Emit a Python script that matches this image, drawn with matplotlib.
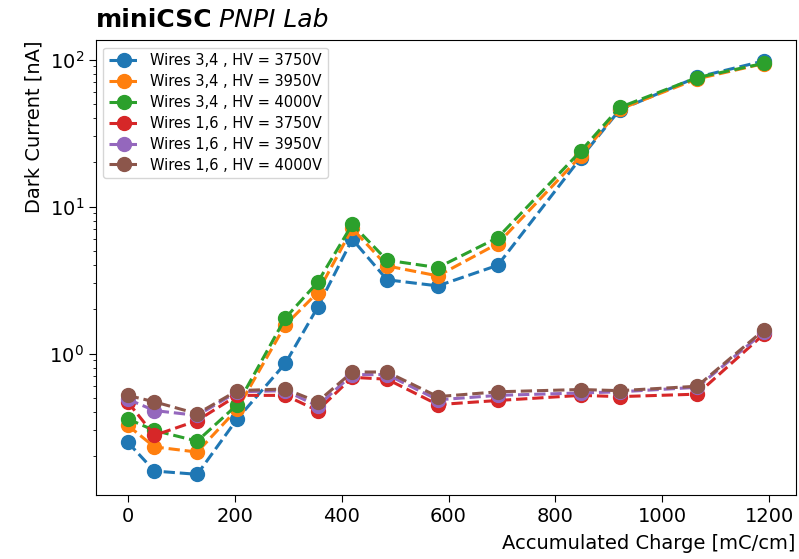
from matplotlib import pyplot as plt
from matplotlib.transforms import offset_copy

# accumulated charge [mC/cm]
charge = [0, 50, 130, 205, 295, 355, 420, 485, 580, 692, 847, 920, 1065, 1190]

# dark current [nA]
w34_3750 = [0.25, 0.159, 0.151, 0.36, 0.86, 2.06, 6.0, 3.18, 2.89, 3.99, 21.4, 45.5, 76, 98]
w34_3950 = [0.325, 0.232, 0.214, 0.42, 1.57, 2.6, 7.1, 3.95, 3.38, 5.6, 22.0, 46.0, 74, 94]
w34_4000 = [0.36, 0.30, 0.254, 0.45, 1.75, 3.05, 7.57, 4.32, 3.85, 6.15, 23.8, 47.3, 75.5, 94.4]
w16_3750 = [0.47, 0.278, 0.35, 0.52, 0.52, 0.41, 0.69, 0.67, 0.45, 0.48, 0.52, 0.51, 0.53, 1.36]
w16_3950 = [0.49, 0.41, 0.38, 0.55, 0.56, 0.44, 0.72, 0.72, 0.485, 0.52, 0.54, 0.55, 0.59, 1.40]
w16_4000 = [0.52, 0.47, 0.39, 0.56, 0.575, 0.47, 0.75, 0.75, 0.51, 0.55, 0.57, 0.56, 0.60, 1.45]

series = [
    (w34_3750, 'Wires 3,4 , HV = 3750V'),
    (w34_3950, 'Wires 3,4 , HV = 3950V'),
    (w34_4000, 'Wires 3,4 , HV = 4000V'),
    (w16_3750, 'Wires 1,6 , HV = 3750V'),
    (w16_3950, 'Wires 1,6 , HV = 3950V'),
    (w16_4000, 'Wires 1,6 , HV = 4000V'),
]

fig, ax = plt.subplots(figsize=(7.99, 5.59), dpi=100)
fig.subplots_adjust(left=0.12, right=0.996, top=0.928, bottom=0.1145)

for values, label in series:
    ax.plot(charge, values, 'o--', markersize=10, linewidth=2.2, label=label)

ax.set_yscale('log')
ax.set_xlabel('Accumulated Charge [mC/cm]', fontsize=14, loc='right', labelpad=6)
ax.set_ylabel('Dark Current [nA]', fontsize=14, loc='top')
ax.tick_params(axis='both', which='major', labelsize=14, length=5)
ax.legend(loc='upper left', fontsize=10.5, labelspacing=0.4)

# title: bold experiment name followed by italic lab name
t = ax.text(0, 1.0286, 'miniCSC', transform=ax.transAxes, fontsize=18,
            fontweight='bold', ha='left', va='baseline')
fig.canvas.draw()
w = t.get_window_extent().width
ax.text(0, 1.0286, 'PNPI Lab', fontsize=18, style='italic', ha='left', va='baseline',
        transform=offset_copy(ax.transAxes, fig=fig, x=w + 6, y=0, units='dots'))

fig.savefig('out.png', dpi=100)
